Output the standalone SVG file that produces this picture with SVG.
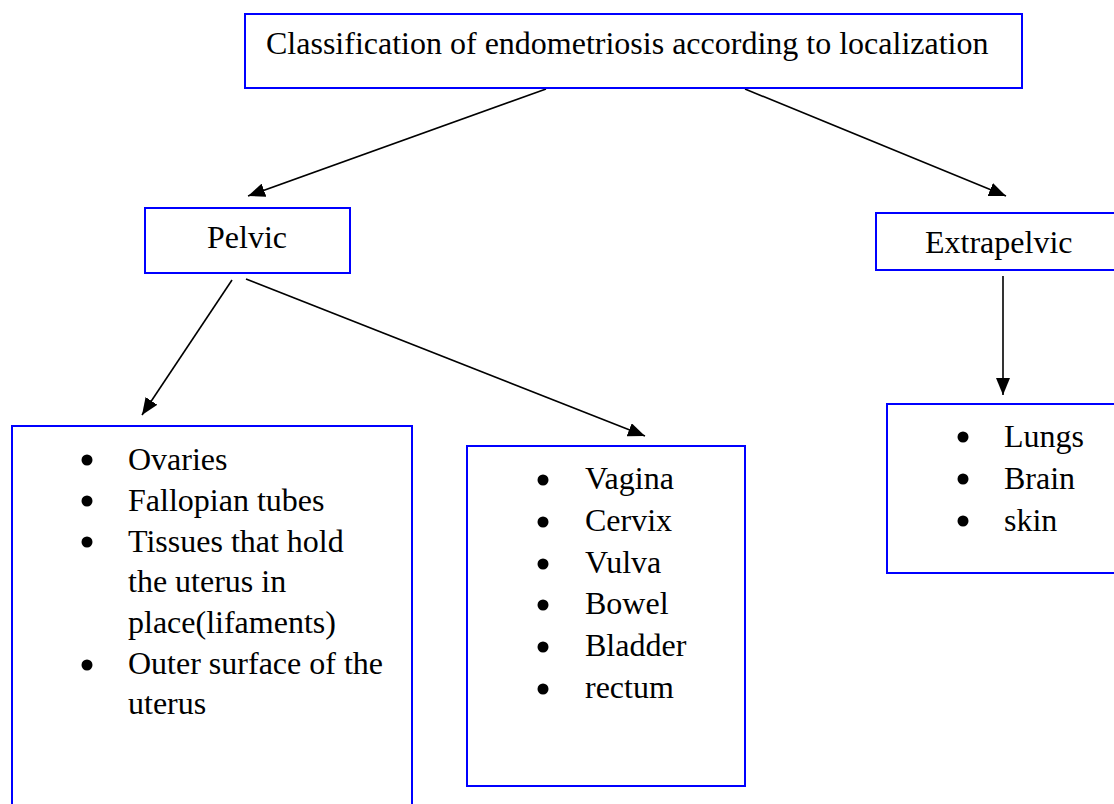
<svg xmlns="http://www.w3.org/2000/svg" width="1114" height="804" viewBox="0 0 1114 804">
  <style>
    .box { fill: #ffffff; stroke: #0000ff; stroke-width: 2; }
    .t { font-family: "Liberation Serif", "Times New Roman", serif; font-size: 32px; fill: #000000; }
    .b { fill: #000000; }
    .conn { stroke: #000000; stroke-width: 1.6; fill: none; marker-end: url(#arrow); }
  </style>
  <defs>
    <marker id="arrow" markerUnits="userSpaceOnUse" markerWidth="18" markerHeight="14" refX="17" refY="7" orient="auto">
      <path d="M0,0 L17,7 L0,14 z" fill="#000000"/>
    </marker>
  </defs>
  <rect width="1114" height="804" fill="#ffffff"/>

  <g id="connectors">
    <line class="conn" x1="546" y1="89" x2="248" y2="196"/>
    <line class="conn" x1="745" y1="89" x2="1006" y2="196"/>
    <line class="conn" x1="232" y1="280" x2="142" y2="415"/>
    <line class="conn" x1="246" y1="279" x2="645" y2="436"/>
    <line class="conn" x1="1003" y1="276" x2="1003" y2="395"/>
  </g>

  <g id="root">
    <rect class="box" x="245" y="14" width="777" height="74"/>
    <text class="t" x="266" y="54">Classification of endometriosis according to localization</text>
  </g>

  <g id="pelvic">
    <rect class="box" x="145" y="208" width="205" height="65"/>
    <text class="t" x="207" y="248">Pelvic</text>
  </g>

  <g id="extrapelvic">
    <rect class="box" x="876" y="213" width="250" height="57"/>
    <text class="t" x="925" y="253">Extrapelvic</text>
  </g>

  <g id="pelvic-organs">
    <rect class="box" x="12" y="426" width="400" height="400"/>
    <circle class="b" cx="87" cy="460" r="5.5"/>
    <circle class="b" cx="87" cy="501" r="5.5"/>
    <circle class="b" cx="87" cy="542" r="5.5"/>
    <circle class="b" cx="87" cy="665" r="5.5"/>
    <text class="t" x="128" y="470">Ovaries</text>
    <text class="t" x="128" y="511">Fallopian tubes</text>
    <text class="t" x="128" y="552">Tissues that hold</text>
    <text class="t" x="128" y="592">the uterus in</text>
    <text class="t" x="128" y="633">place(lifaments)</text>
    <text class="t" x="128" y="674">Outer surface of the</text>
    <text class="t" x="128" y="714">uterus</text>
  </g>

  <g id="pelvic-other">
    <rect class="box" x="467" y="446" width="278" height="340"/>
    <circle class="b" cx="543" cy="480" r="5.5"/>
    <circle class="b" cx="543" cy="522" r="5.5"/>
    <circle class="b" cx="543" cy="564" r="5.5"/>
    <circle class="b" cx="543" cy="605" r="5.5"/>
    <circle class="b" cx="543" cy="647" r="5.5"/>
    <circle class="b" cx="543" cy="689" r="5.5"/>
    <text class="t" x="585" y="489">Vagina</text>
    <text class="t" x="585" y="531">Cervix</text>
    <text class="t" x="585" y="573">Vulva</text>
    <text class="t" x="585" y="614">Bowel</text>
    <text class="t" x="585" y="656">Bladder</text>
    <text class="t" x="585" y="698">rectum</text>
  </g>

  <g id="extrapelvic-organs">
    <rect class="box" x="887" y="404" width="250" height="169"/>
    <circle class="b" cx="963" cy="437" r="5.5"/>
    <circle class="b" cx="963" cy="479" r="5.5"/>
    <circle class="b" cx="963" cy="521" r="5.5"/>
    <text class="t" x="1004" y="447">Lungs</text>
    <text class="t" x="1004" y="489">Brain</text>
    <text class="t" x="1004" y="531">skin</text>
  </g>
</svg>
